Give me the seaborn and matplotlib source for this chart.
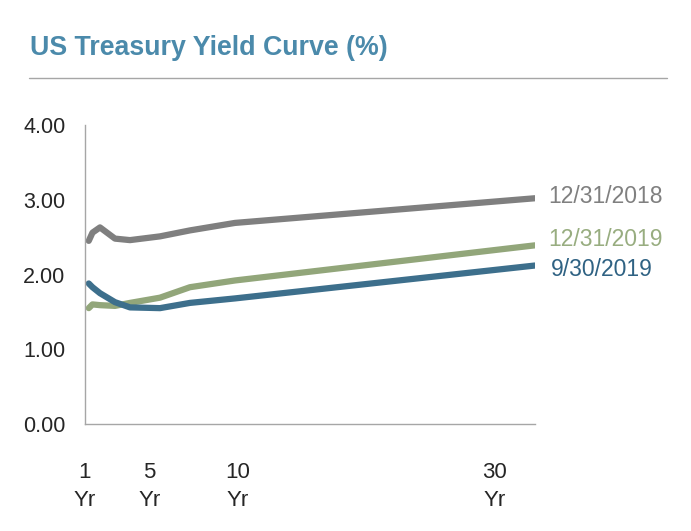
import seaborn as sns
import matplotlib.pyplot as plt
import pandas as pd

# maturities in years: 3M, 6M, 1Y, 2Y, 3Y, 5Y, 7Y, 10Y, 30Y
maturity = [0.25, 0.5, 1, 2, 3, 5, 7, 10, 30]
yield_2018 = [2.45, 2.56, 2.63, 2.48, 2.46, 2.51, 2.59, 2.69, 3.02]
yield_sep19 = [1.88, 1.83, 1.75, 1.63, 1.56, 1.55, 1.62, 1.68, 2.12]
yield_dec19 = [1.55, 1.60, 1.59, 1.58, 1.62, 1.69, 1.83, 1.92, 2.39]
series_names = ['12/31/2018', '12/31/2019', '9/30/2019']
tick_labels = ['1\nYr', '5\nYr', '10\nYr', '30\nYr']
y_ticks = [0, 1, 2, 3, 4]

line_colors = {'12/31/2018': '#7F7F7F', '12/31/2019': '#92A67A', '9/30/2019': '#3D6F8C'}
text_colors = {'12/31/2018': '#808080', '12/31/2019': '#98AD80', '9/30/2019': '#2F6283'}
label_shift = {'12/31/2018': (9.5, 1), '12/31/2019': (9.5, 4), '9/30/2019': (11.5, -3)}

df = pd.concat([
    pd.DataFrame({'maturity': maturity, 'yield': yield_2018, 'date': '12/31/2018'}),
    pd.DataFrame({'maturity': maturity, 'yield': yield_dec19, 'date': '12/31/2019'}),
    pd.DataFrame({'maturity': maturity, 'yield': yield_sep19, 'date': '9/30/2019'}),
])

sns.set_style("white")
plt.rcParams['font.family'] = ['Liberation Sans', 'DejaVu Sans']

fig = plt.figure(figsize=(6.91, 5.31), dpi=100)
ax = fig.add_axes([0.123, 0.2015, 0.651, 0.5631])

sns.lineplot(data=df, x='maturity', y='yield', hue='date', palette=line_colors,
             linewidth=4.5, legend=False, ax=ax, solid_capstyle='round')

ax.set_xlim(0, 30)
ax.set_ylim(0, 4)
ax.set_yticks(y_ticks)
ax.set_yticklabels([f'{v:.2f}' for v in y_ticks], fontsize=15.5)
# labels sit where the original text boxes were, not exactly on the maturities
ax.set_xticks([0, 4.3, 10.2, 27.3])
ax.set_xticklabels(tick_labels, fontsize=16, linespacing=1.45)
ax.tick_params(axis='x', length=0, pad=27)
ax.tick_params(axis='y', length=0, pad=14)
ax.set_xlabel('')
ax.set_ylabel('')

for s in ['top', 'right']:
    ax.spines[s].set_visible(False)
for s in ['left', 'bottom']:
    ax.spines[s].set_color('#A6A6A6')
    ax.spines[s].set_linewidth(1)

for name in series_names:
    end_val = df[df['date'] == name]['yield'].iloc[-1]
    ax.annotate(name, xy=(maturity[-1], end_val), xytext=label_shift[name],
                textcoords='offset points', color=text_colors[name],
                fontsize=16.5, va='center', ha='left', annotation_clip=False)

fig.text(30 / 691, 1 - 55 / 531, 'US Treasury Yield Curve (%)',
         fontsize=19.3, fontweight='bold', color='#4B8AAB',
         family=['Liberation Sans Narrow', 'Liberation Sans', 'DejaVu Sans'])
fig.add_artist(plt.Line2D([29 / 691, 667 / 691], [1 - 78 / 531, 1 - 78 / 531],
                          color='#A6A6A6', linewidth=1))

plt.savefig('out.png', dpi=100)
